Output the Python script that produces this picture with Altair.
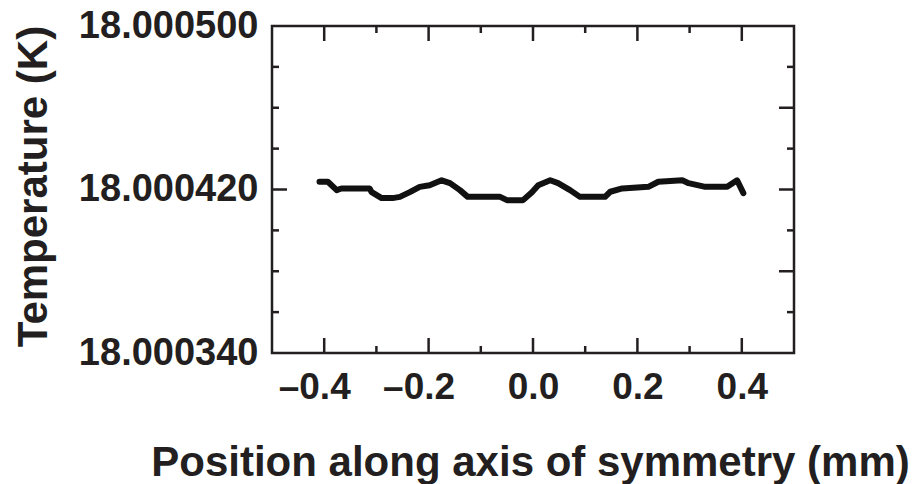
import altair as alt
import pandas as pd

# ---- data ----
position_mm = [-0.409, -0.393, -0.376, -0.367, -0.313, -0.309, -0.290, -0.269, -0.255,
               -0.236, -0.217, -0.198, -0.175, -0.159, -0.140, -0.125, -0.063, -0.050,
               -0.019, -0.002, 0.010, 0.033, 0.048, 0.071, 0.090, 0.138, 0.148, 0.171,
               0.221, 0.240, 0.286, 0.298, 0.330, 0.372, 0.391, 0.403]
temperature_K = [18.0004238, 18.0004238, 18.0004197, 18.0004205, 18.0004205, 18.0004187,
                 18.0004158, 18.0004158, 18.0004164, 18.0004187, 18.0004213, 18.0004221,
                 18.0004245, 18.0004231, 18.0004197, 18.0004164, 18.0004164, 18.0004148,
                 18.0004148, 18.0004187, 18.0004221, 18.0004245, 18.0004231, 18.0004197,
                 18.0004164, 18.0004164, 18.0004189, 18.0004205, 18.0004213, 18.0004238,
                 18.0004245, 18.0004231, 18.0004213, 18.0004213, 18.0004245, 18.0004182]

x_domain = [-0.5, 0.5]
y_domain = [18.000340, 18.000500]
x_label_values = [-0.4, -0.2, 0.0, 0.2, 0.4]
x_minor_values = [-0.3, -0.1, 0.1, 0.3]
y_label_values = [18.000340, 18.000420, 18.000500]
y_left_major = [18.000420]
y_left_minor = [18.000360, 18.000380, 18.000400, 18.000440, 18.000460, 18.000480]
y_right_major = [18.000380, 18.000420, 18.000460]
y_right_minor = [18.000360, 18.000400, 18.000440, 18.000480]

x_title = "Position along axis of symmetry (mm)"
y_title = "Temperature (K)"

# ---- layout / style ----
W, H = 522, 327
INK = "#231f20"
FONT = "Liberation Sans"

xscale = alt.Scale(domain=x_domain, nice=False, zero=False)
yscale = alt.Scale(domain=y_domain, nice=False, zero=False)

xaxis = alt.Axis(
    values=x_label_values,
    labelExpr="datum.value < 0 ? '\u2013' + format(-datum.value, '.1f') : format(datum.value, '.1f')",
    ticks=False, domain=False, grid=False,
    labelFont=FONT, labelFontWeight="bold", labelFontSize=37, labelColor=INK,
    labelPadding=16, labelFlush=False, labelOverlap=False,
    labelOffset={"condition": {"test": "datum.value < 0", "value": -10}, "value": 0},
    title=x_title, titleFont=FONT, titleFontWeight="bold", titleFontSize=42,
    titleColor=INK, titleX=258, titleY=122, titleBaseline="alphabetic",
    titleAlign="center",
)
yaxis = alt.Axis(
    values=y_label_values, format=".6f",
    ticks=False, domain=False, grid=False,
    labelFont=FONT, labelFontWeight="bold", labelFontSize=38, labelColor=INK,
    labelPadding=14, labelFlush=False, labelOverlap=False,
    title=y_title, titleFont=FONT, titleFontWeight="bold", titleFontSize=42,
    titleColor=INK, titleX=-226, titleY=160, titleBaseline="alphabetic",
    titleAlign="center", titleAngle=270,
)


def X():
    return alt.X("pos:Q", scale=xscale, axis=xaxis)


def Y():
    return alt.Y("temp:Q", scale=yscale, axis=yaxis)


line_df = pd.DataFrame({"pos": position_mm, "temp": temperature_K})

line = alt.Chart(line_df).mark_line(
    color="#111111", strokeWidth=6, strokeJoin="round", strokeCap="round"
).encode(x=X(), y=Y())


def xticks(vals, y0, y1):
    return alt.Chart(pd.DataFrame({"pos": vals})).mark_rule(
        color=INK, strokeWidth=2.5
    ).encode(x=X(), y=alt.value(y0), y2=alt.value(y1))


def yticks(vals, x0, x1):
    return alt.Chart(pd.DataFrame({"temp": vals})).mark_rule(
        color=INK, strokeWidth=2.5
    ).encode(y=Y(), x=alt.value(x0), x2=alt.value(x1))


layers = [
    xticks(x_label_values, H, H - 15),
    xticks(x_minor_values, H, H - 7),
    xticks(x_label_values, 0, 15),
    xticks(x_minor_values, 0, 7),
    yticks(y_left_major, 0, 15),
    yticks(y_left_minor, 0, 7),
    yticks(y_right_major, W, W - 15),
    yticks(y_right_minor, W, W - 7),
    line,
]

chart = alt.layer(*layers).properties(
    width=W, height=H,
    autosize=alt.AutoSizeParams(type="none"),
    padding={"left": 272, "top": 26, "right": 920 - 272 - W, "bottom": 484 - 26 - H},
    background="white",
).configure_view(stroke=INK, strokeWidth=2.5)

chart.save("out.html", embed_options={"renderer": "svg", "actions": False})
